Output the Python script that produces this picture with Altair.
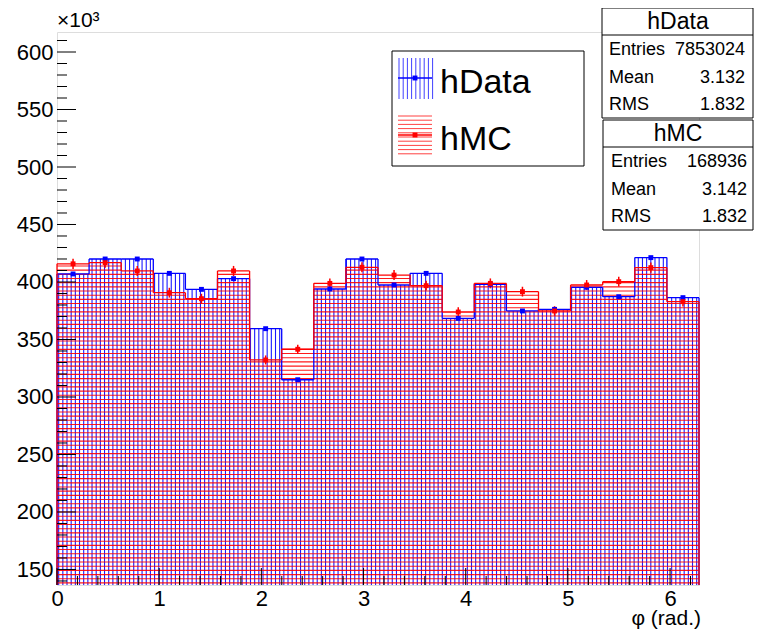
import math
import altair as alt
import pandas as pd

# ---------------- data ----------------
N_BINS = 20
X_MAX = 2 * math.pi
data_vals = [407.0, 420.0, 420.0, 407.5, 393.6, 402.9, 359.4, 315.0, 393.9, 420.0,
             397.4, 407.5, 368.4, 398.0, 374.8, 376.2, 395.4, 387.2, 421.2, 386.4]
mc_vals = [415.8, 416.8, 409.6, 390.7, 385.5, 409.6, 332.2, 341.5, 398.8, 412.8,
           406.0, 396.8, 373.9, 398.8, 391.6, 374.8, 397.4, 400.3, 412.5, 382.9]
x_tick_labels = [0, 1, 2, 3, 4, 5, 6]
y_tick_labels = [150, 200, 250, 300, 350, 400, 450, 500, 550, 600]
stats_data = [("Entries", "7853024"), ("Mean", "3.132"), ("RMS", "1.832")]
stats_mc = [("Entries", "168936"), ("Mean", "3.142"), ("RMS", "1.832")]
ENTRIES_DATA = 7853024
ENTRIES_MC = 168936

# ---------------- layout ----------------
Y_MIN, Y_MAX = 136.5, 617.4
W, H = 642, 553
FONT = "Liberation Sans"
BLUE = "#0000ff"
RED = "#ff0000"
bw = X_MAX / N_BINS

xs = alt.Scale(domain=[0, X_MAX], nice=False, zero=False)
ys = alt.Scale(domain=[Y_MIN, Y_MAX], nice=False, zero=False)
xaxis = alt.Axis(values=x_tick_labels, format="d", ticks=False, domain=False, grid=False,
                 labelFont=FONT, labelFontSize=22, labelColor="black", labelPadding=3,
                 labelFlush=False, labelOverlap=False, title=None)
yaxis = alt.Axis(values=y_tick_labels, format="d", ticks=False, domain=False, grid=False,
                 labelFont=FONT, labelFontSize=22, labelColor="black", labelPadding=4,
                 labelFlush=False, labelOverlap=False, title=None)


def X(f):
    return alt.X(f, type="quantitative", scale=xs, axis=xaxis)


def Y(f):
    return alt.Y(f, type="quantitative", scale=ys, axis=yaxis)


def px2x(px):
    return px / W * X_MAX


def py2y(py):
    return Y_MAX - py / H * (Y_MAX - Y_MIN)


# hatch lines derived from bin contents
hatch_px = 4.17
dx = px2x(hatch_px)
dy = hatch_px / H * (Y_MAX - Y_MIN)
blue_rows = []
k = 0
while True:
    xv = dx * 0.4 + k * dx
    if xv >= X_MAX:
        break
    i = min(int(xv / bw), N_BINS - 1)
    blue_rows.append({"x": xv, "y1": Y_MIN, "y2": data_vals[i]})
    k += 1
red_rows = []
for i, v in enumerate(mc_vals):
    yv = Y_MIN + dy * 0.5
    while yv < v:
        red_rows.append({"x1": i * bw, "x2": (i + 1) * bw, "y": yv})
        yv += dy

blue_hatch = alt.Chart(pd.DataFrame(blue_rows)).mark_rule(
    color=BLUE, strokeWidth=1.1, opacity=0.9).encode(x=X("x"), y=Y("y1"), y2="y2")
red_hatch = alt.Chart(pd.DataFrame(red_rows)).mark_rule(
    color=RED, strokeWidth=1.1, opacity=0.9).encode(x=X("x1"), x2="x2", y=Y("y"))


def outline(vals, color):
    horiz = pd.DataFrame({"x1": [i * bw for i in range(N_BINS)],
                          "x2": [(i + 1) * bw for i in range(N_BINS)],
                          "y": vals})
    vrows = []
    for e in range(N_BINS + 1):
        a = Y_MIN if e == 0 else vals[e - 1]
        b = Y_MIN if e == N_BINS else vals[e]
        vrows.append({"x": e * bw, "y1": a, "y2": b})
    h = alt.Chart(horiz).mark_rule(color=color, strokeWidth=1.3).encode(
        x=X("x1"), x2="x2", y=Y("y"))
    v = alt.Chart(pd.DataFrame(vrows)).mark_rule(color=color, strokeWidth=1.3).encode(
        x=X("x"), y=Y("y1"), y2="y2")
    return [h, v]


scale_mc = ENTRIES_DATA / ENTRIES_MC
centers = [(i + 0.5) * bw for i in range(N_BINS)]
mc_err = [math.sqrt(v * 1000 / scale_mc) * scale_mc / 1000 for v in mc_vals]
pts_data = pd.DataFrame({"x": centers, "y": data_vals})
pts_mc = pd.DataFrame({"x": centers, "y": mc_vals,
                       "lo": [v - e for v, e in zip(mc_vals, mc_err)],
                       "hi": [v + e for v, e in zip(mc_vals, mc_err)]})

mc_errbar = alt.Chart(pts_mc).mark_rule(color=RED, strokeWidth=1.5).encode(
    x=X("x"), y=Y("lo"), y2="hi")
mc_pts = alt.Chart(pts_mc).mark_square(color=RED, size=24, opacity=1).encode(
    x=X("x"), y=Y("y"))
data_pts = alt.Chart(pts_data).mark_square(color=BLUE, size=24, opacity=1).encode(
    x=X("x"), y=Y("y"))

# axis ticks drawn inward (ROOT style)
y_major = [v for v in range(150, 601, 50)]
y_minor = [v for v in range(140, 611, 10) if v % 50 != 0]
x_major = x_tick_labels
x_minor = [round(0.2 * j, 2) for j in range(1, 32) if j % 5 != 0]
tick_layers = [
    alt.Chart(pd.DataFrame({"y": y_major})).mark_rule(color="black", strokeWidth=1).encode(
        x=alt.value(0), x2=alt.value(19), y=Y("y")),
    alt.Chart(pd.DataFrame({"y": y_minor})).mark_rule(color="black", strokeWidth=1).encode(
        x=alt.value(0), x2=alt.value(10), y=Y("y")),
    alt.Chart(pd.DataFrame({"x": x_major})).mark_rule(color="black", strokeWidth=1).encode(
        x=X("x"), y=alt.value(H), y2=alt.value(H - 17)),
    alt.Chart(pd.DataFrame({"x": x_minor})).mark_rule(color="black", strokeWidth=1).encode(
        x=X("x"), y=alt.value(H), y2=alt.value(H - 9)),
]


def box(x1, y1, x2, y2):
    df = pd.DataFrame({"x1": [px2x(x1)], "x2": [px2x(x2)], "y1": [py2y(y1)], "y2": [py2y(y2)]})
    return alt.Chart(df).mark_rect(fill="white", stroke="black", strokeWidth=1).encode(
        x=X("x1"), x2="x2", y=Y("y1"), y2="y2")


def hline(x1, x2, y):
    df = pd.DataFrame({"x1": [px2x(x1)], "x2": [px2x(x2)], "y": [py2y(y)]})
    return alt.Chart(df).mark_rule(color="black", strokeWidth=1).encode(
        x=X("x1"), x2="x2", y=Y("y"))


def texts(rows, size, align, baseline="middle"):
    df = pd.DataFrame({"x": [px2x(r[0]) for r in rows], "y": [py2y(r[1]) for r in rows],
                       "t": [r[2] for r in rows]})
    return alt.Chart(df).mark_text(font=FONT, fontSize=size, align=align, baseline=baseline,
                                   color="black").encode(x=X("x"), y=Y("y"), text="t:N")


# legend
leg = [box(335, 19, 527, 134)]
sym_x1, sym_x2 = 341, 375
lb = [{"x": px2x(sym_x1 + 1 + j * 4.2), "y1": py2y(26), "y2": py2y(67)} for j in range(9)]
leg.append(alt.Chart(pd.DataFrame(lb)).mark_rule(color=BLUE, strokeWidth=1, opacity=0.75).encode(
    x=X("x"), y=Y("y1"), y2="y2"))
lr = [{"x1": px2x(sym_x1), "x2": px2x(sym_x2), "y": py2y(84 + j * 4.2)} for j in range(10)]
leg.append(alt.Chart(pd.DataFrame(lr)).mark_rule(color=RED, strokeWidth=1, opacity=0.75).encode(
    x=X("x1"), x2="x2", y=Y("y")))
lm = pd.DataFrame({"x": [px2x(358), px2x(358)], "y": [py2y(46), py2y(103)], "c": ["d", "m"]})
leg.append(alt.Chart(pd.DataFrame({"x1": [px2x(sym_x1)], "x2": [px2x(sym_x2)], "y": [py2y(46)]}))
           .mark_rule(color=BLUE, strokeWidth=1.3).encode(x=X("x1"), x2="x2", y=Y("y")))
leg.append(alt.Chart(pd.DataFrame({"x1": [px2x(sym_x1)], "x2": [px2x(sym_x2)], "y": [py2y(103)]}))
           .mark_rule(color=RED, strokeWidth=1.3).encode(x=X("x1"), x2="x2", y=Y("y")))
leg.append(alt.Chart(lm).mark_square(size=24, opacity=1).encode(
    x=X("x"), y=Y("y"),
    color=alt.Color("c:N", scale=alt.Scale(domain=["d", "m"], range=[BLUE, RED]), legend=None)))
leg.append(texts([(383, 61, "hData"), (383, 118, "hMC")], 34, "left", "alphabetic"))

# stats boxes
BR = 696
stats = [box(545, -24, BR, 86), hline(545, BR, 3),
         box(546, 88, BR, 198), hline(546, BR, 115)]
stats.append(texts([(621, -10, "hData"), (621, 102, "hMC")], 23, "center"))
left_rows = [(552, 18 + 27.5 * j, s[0]) for j, s in enumerate(stats_data)] + \
            [(554, 130 + 27.5 * j, s[0]) for j, s in enumerate(stats_mc)]
right_rows = [(BR - 8, 18 + 27.5 * j, s[1]) for j, s in enumerate(stats_data)] + \
             [(BR - 6, 130 + 27.5 * j, s[1]) for j, s in enumerate(stats_mc)]
stats.append(texts(left_rows, 18, "left"))
stats.append(texts(right_rows, 18, "right"))

extra = [texts([(0, -11, "×10³")], 21, "left"),
         texts([(644, 587, "φ (rad.)")], 21, "right")]

layers = [blue_hatch, red_hatch] + outline(data_vals, BLUE) + outline(mc_vals, RED) + \
         [mc_errbar, data_pts, mc_pts] + tick_layers + leg + stats + extra

chart = alt.layer(*layers).properties(
    width=W, height=H,
    padding={"left": 49, "top": 24, "right": 56, "bottom": 46},
    autosize=alt.AutoSizeParams(type="none"),
).configure_view(stroke="black", strokeWidth=1).configure(background="white")

chart.save("out.html", embed_options={"renderer": "svg", "actions": False})
